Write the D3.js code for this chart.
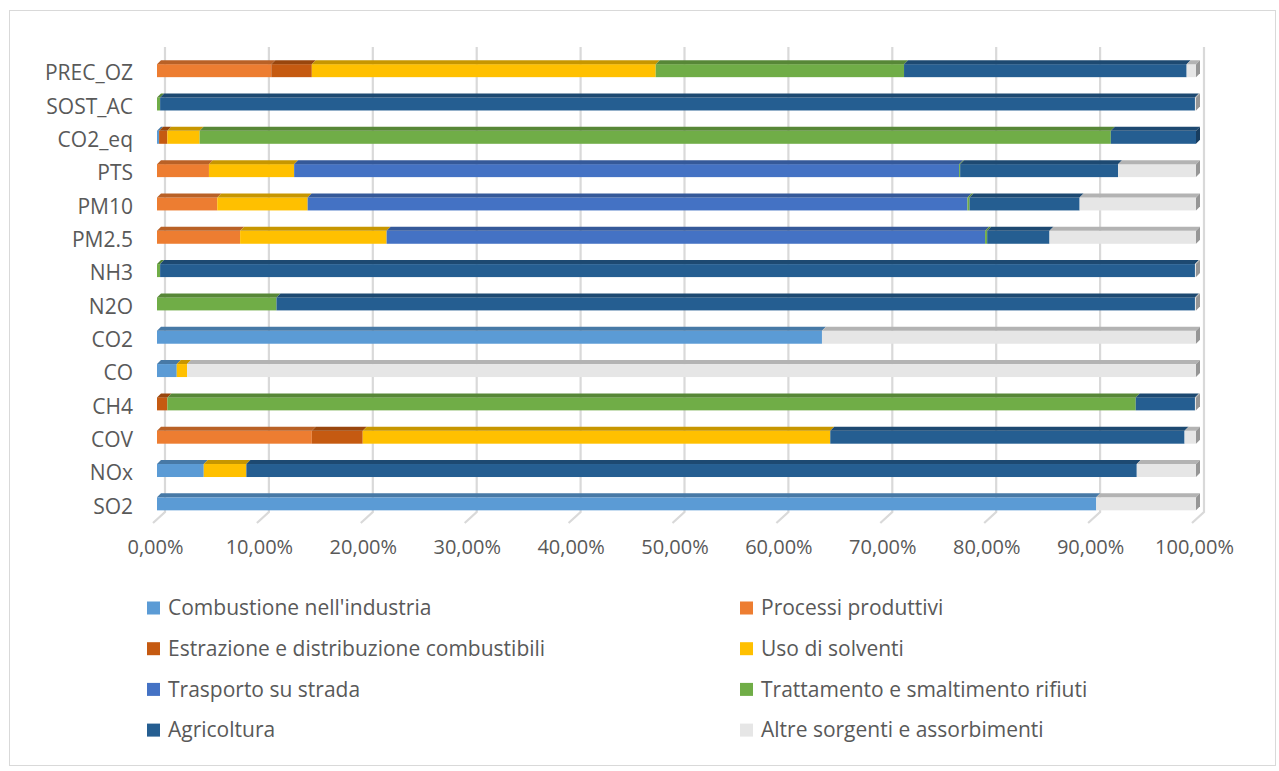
<!DOCTYPE html>
<html>
<head>
<meta charset="utf-8">
<script src="https://cdn.jsdelivr.net/npm/d3@7"></script>
<style>
  html, body { margin: 0; padding: 0; background: #ffffff; }
  svg text { font-family: "Open Sans", "Noto Sans", sans-serif; fill: #595959; }
</style>
</head>
<body>
<svg id="chart" width="1279" height="771"></svg>
<script>
// Pollutants, bottom to top
const categories = ["SO2", "NOx", "COV", "CH4", "CO", "CO2", "N2O", "NH3", "PM2.5", "PM10", "PTS", "CO2_eq", "SOST_AC", "PREC_OZ"];

// Share of emissions by source sector (%), same order as categories
const combustioneIndustria = [90.4, 4.5, 0, 0, 1.9, 64.0, 0, 0, 0, 0, 0, 0.2, 0, 0];
const processiProduttivi   = [0, 0, 14.9, 0, 0, 0, 0, 0, 8.0, 5.8, 5.0, 0, 0, 11.0];
const estrazioneDistrib    = [0, 0, 4.9, 1.0, 0, 0, 0, 0, 0, 0, 0, 0.8, 0, 3.9];
const usoSolventi          = [0, 4.1, 45.0, 0, 1.0, 0, 0, 0, 14.1, 8.7, 8.2, 3.1, 0, 33.1];
const trasportoStrada      = [0, 0, 0, 0, 0, 0, 0, 0, 57.6, 63.5, 64.0, 0, 0, 0];
const trattamentoRifiuti   = [0, 0, 0, 93.2, 0, 0, 11.5, 0.3, 0.2, 0.2, 0.1, 87.7, 0.3, 23.9];
const agricoltura          = [0, 85.7, 34.1, 5.7, 0, 0, 88.4, 99.6, 6.0, 10.6, 15.2, 8.2, 99.6, 27.2];
const altreSorgenti        = [9.6, 5.7, 1.1, 0.1, 97.1, 36.0, 0.1, 0.1, 14.1, 11.2, 7.5, 0, 0.1, 0.9];

const seriesNames = [
  "Combustione nell'industria",
  "Processi produttivi",
  "Estrazione e distribuzione combustibili",
  "Uso di solventi",
  "Trasporto su strada",
  "Trattamento e smaltimento rifiuti",
  "Agricoltura",
  "Altre sorgenti e assorbimenti"
];
const seriesValues = [combustioneIndustria, processiProduttivi, estrazioneDistrib, usoSolventi,
                      trasportoStrada, trattamentoRifiuti, agricoltura, altreSorgenti];
const seriesColors = ["#5B9BD5", "#ED7D31", "#C55A11", "#FFC000", "#4472C4", "#70AD47", "#255E91", "#E6E6E6"];

const tickValues = [0, 10, 20, 30, 40, 50, 60, 70, 80, 90, 100];

// Build table rows for d3.stack
const rows = categories.map((c, i) => {
  const r = { category: c };
  seriesNames.forEach((s, k) => { r[s] = seriesValues[k][i]; });
  return r;
});
const stacked = d3.stack().keys(seriesNames)(rows);

const svg = d3.select("#chart");

// chart area frame
svg.append("rect")
  .attr("x", 9.5).attr("y", 10.5).attr("width", 1266).attr("height", 755)
  .attr("fill", "#ffffff").attr("stroke", "#d9d9d9").attr("stroke-width", 1);

const x = d3.scaleLinear().domain([0, 100]).range([157, 1196]);
const y = d3.scaleBand()
  .domain(categories.slice().reverse())
  .range([54, 520.5])
  .paddingInner(0.61)
  .paddingOuter(0.305);

// depth of the back wall and of each bar
const wallDx = 8, wallTop = 47, wallBottom = 512;
const barDx = 4, barDy = 4;

// gridlines on the back wall with slanted floor ticks
const grid = svg.append("g").attr("class", "grid");
tickValues.forEach(t => {
  const xb = x(t) + wallDx;
  grid.append("path")
    .attr("d", `M${xb},${wallTop}V${wallBottom}L${xb - 12},${wallBottom + 11}`)
    .attr("fill", "none")
    .attr("stroke", "#d9d9d9")
    .attr("stroke-width", 2.2);
});

// stacked 3D bars
const bars = svg.append("g").attr("class", "bars");
const bw = y.bandwidth();
const lastIndex = categories.map((c, i) => {
  let last = -1;
  seriesValues.forEach((vals, k) => { if (vals[i] > 0) last = k; });
  return last;
});

stacked.forEach((layer, k) => {
  const col = seriesColors[k];
  const topCol = d3.color(col).darker(0.7).formatHex();
  const sideCol = d3.color(col).darker(1.2).formatHex();
  const g = bars.append("g").attr("class", "series-" + k);
  layer.forEach((d, i) => {
    const x0 = x(d[0]), x1 = x(d[1]);
    if (x1 - x0 <= 0) return;
    const yt = y(d.data.category);
    g.append("rect")
      .attr("x", x0).attr("y", yt)
      .attr("width", x1 - x0).attr("height", bw)
      .attr("fill", col);
    g.append("path")
      .attr("d", `M${x0},${yt}L${x0 + barDx},${yt - barDy}L${x1 + barDx},${yt - barDy}L${x1},${yt}Z`)
      .attr("fill", topCol);
    if (lastIndex[i] === k) {
      g.append("path")
        .attr("d", `M${x1},${yt}L${x1 + barDx},${yt - barDy}L${x1 + barDx},${yt + bw - barDy}L${x1},${yt + bw}Z`)
        .attr("fill", sideCol);
    }
  });
});

// category axis
const yAxis = svg.append("g")
  .attr("transform", "translate(133,3)")
  .call(d3.axisLeft(y).tickSize(0).tickPadding(0));
yAxis.select(".domain").remove();
yAxis.selectAll("text")
  .attr("font-size", 21)
  .attr("fill", "#595959")
  .style("font-family", "'Open Sans', sans-serif");

// value axis labels
const it = d3.formatLocale({ decimal: ",", thousands: ".", grouping: [3], currency: ["€", ""] });
const pct = it.format(".2%");
const xAxis = svg.append("g")
  .attr("transform", "translate(-2,540)")
  .call(d3.axisBottom(x).tickValues(tickValues).tickSize(0).tickPadding(0).tickFormat(d => pct(d / 100)));
xAxis.select(".domain").remove();
xAxis.selectAll("text")
  .attr("font-size", 20)
  .attr("fill", "#595959")
  .style("font-family", "'Open Sans', sans-serif");

// legend, two columns
const legend = svg.append("g").attr("class", "legend");
seriesNames.forEach((name, k) => {
  const colIdx = k % 2, rowIdx = Math.floor(k / 2);
  const lx = 147 + colIdx * 593;
  const ly = 608 + rowIdx * 40.7;
  legend.append("rect")
    .attr("x", lx).attr("y", ly - 6.5)
    .attr("width", 13).attr("height", 13)
    .attr("fill", seriesColors[k]);
  legend.append("text")
    .attr("x", lx + 21).attr("y", ly)
    .attr("dy", "0.35em")
    .attr("font-size", 21)
    .text(name);
});
</script>
</body>
</html>
